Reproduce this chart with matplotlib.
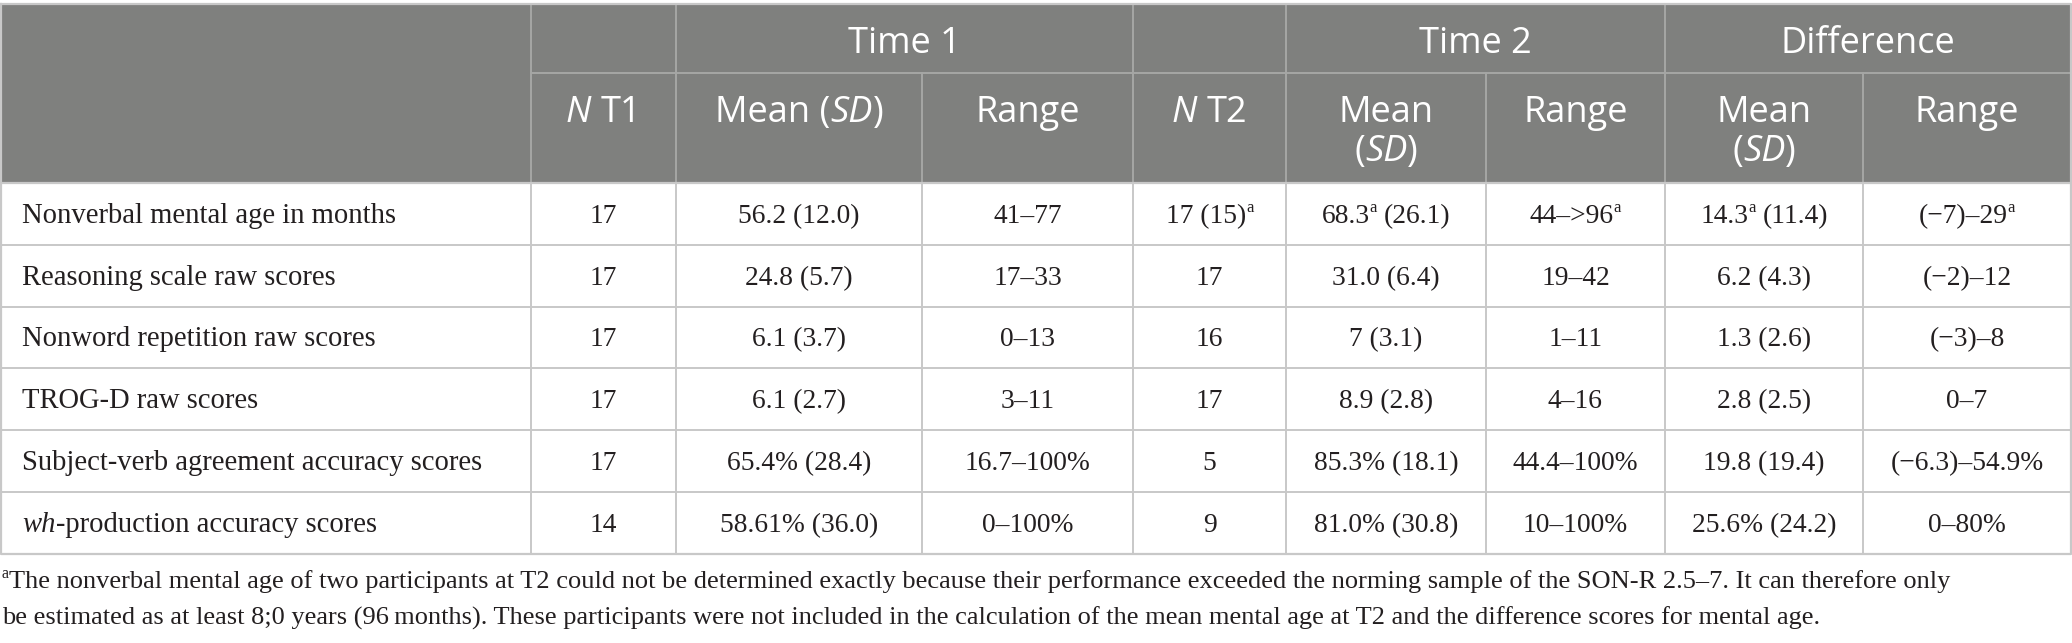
import re
import matplotlib
matplotlib.use("Agg")
import matplotlib.pyplot as plt

# table content (^a marks a superscript footnote letter, _..._ marks italic)
rows = [
    "Nonverbal mental age in months",
    "Reasoning scale raw scores",
    "Nonword repetition raw scores",
    "TROG-D raw scores",
    "Subject-verb agreement accuracy scores",
    "_wh_-production accuracy scores",
]
n_t1 = ["17", "17", "17", "17", "17", "14"]
mean_t1 = ["56.2 (12.0)", "24.8 (5.7)", "6.1 (3.7)", "6.1 (2.7)", "65.4% (28.4)", "58.61% (36.0)"]
range_t1 = ["41–77", "17–33", "0–13", "3–11", "16.7–100%", "0–100%"]
n_t2 = ["17 (15)^a", "17", "16", "17", "5", "9"]
mean_t2 = ["68.3^a (26.1)", "31.0 (6.4)", "7 (3.1)", "8.9 (2.8)", "85.3% (18.1)", "81.0% (30.8)"]
range_t2 = ["44–>96^a", "19–42", "1–11", "4–16", "44.4–100%", "10–100%"]
mean_diff = ["14.3^a (11.4)", "6.2 (4.3)", "1.3 (2.6)", "2.8 (2.5)", "19.8 (19.4)", "25.6% (24.2)"]
range_diff = ["(−7)–29^a", "(−2)–12", "(−3)–8", "0–7", "(−6.3)–54.9%", "0–80%"]

groups = ["", "Time 1", "", "Time 2", "Difference"]
subheads = [["", ""], ["_N_ T1", ""], ["Mean (_SD_)", ""], ["Range", ""], ["_N_ T2", ""],
            ["Mean", "(_SD_)"], ["Range", ""], ["Mean", "(_SD_)"], ["Range", ""]]

footnote = ["^aThe nonverbal mental age of two participants at T2 could not be determined exactly because their performance exceeded the norming sample of the SON-R 2.5–7. It can therefore only",
            "be estimated as at least 8;0 years (96\u2009months). These participants were not included in the calculation of the mean mental age at T2 and the difference scores for mental age."]

# layout in pixels
W, H = 2072, 643
col_x = [1, 531, 676, 922, 1133, 1286, 1486, 1665, 1863, 2071]
group_cols = [(1, 2), (2, 4), (4, 5), (5, 7), (7, 9)]
head_top, head_mid, head_bot = 4, 73, 183
row_h = 61.8

HEAD_BG = "#7f807e"
HEAD_LINE = "#a6a7a5"
BODY_LINE = "#c8c8c8"
BODY_TXT = "#231f20"
SANS = "Open Sans"
SERIF = "Liberation Serif"
HEAD_FS = 26
LABEL_FS = 20.6
BODY_FS = 19.8
FOOT_FS = 19

fig = plt.figure(figsize=(W / 100, H / 100), dpi=100)
ax = fig.add_axes([0, 0, 1, 1])
ax.set_xlim(0, W)
ax.set_ylim(H, 0)
ax.axis("off")
renderer = fig.canvas.get_renderer()


def width(s, **kw):
    t = ax.text(0, 0, "|" + s + "|", **kw)
    t2 = ax.text(0, 0, "||", **kw)
    w = t.get_window_extent(renderer).width - t2.get_window_extent(renderer).width
    t.remove()
    t2.remove()
    return w


def pieces_of(s, family, size):
    out = []
    for part in re.split(r"(\^a|_[^_]+_)", s):
        if not part:
            continue
        if part == "^a":
            out.append(("a", dict(family=family, fontsize=size * 0.6), -size * 0.55))
        elif part.startswith("_"):
            out.append((part[1:-1], dict(family=family, fontsize=size, style="italic"), 0))
        else:
            out.append((part, dict(family=family, fontsize=size), 0))
    return out


def draw(x, y, s, family, size, color, ha="center"):
    pcs = pieces_of(s, family, size)
    ws = [width(p, **kw) for p, kw, _ in pcs]
    cur = x - sum(ws) / 2 if ha == "center" else x
    for (p, kw, dy), w in zip(pcs, ws):
        lead = len(p) - len(p.lstrip(" "))
        off = width(" " * lead, **kw) if lead else 0
        ax.text(cur + off, y + dy, p.strip(" "), ha="left", va="baseline", color=color, **kw)
        cur += w


# header background
ax.add_patch(plt.Rectangle((col_x[0], head_top), col_x[-1] - col_x[0], head_bot - head_top,
                           facecolor=HEAD_BG, edgecolor="none"))

# header lines
ax.plot([col_x[1], col_x[-1]], [head_mid, head_mid], color=HEAD_LINE, lw=1.4)
for i, x in enumerate(col_x[1:-1], start=1):
    top = head_top if i in (1, 2, 4, 5, 7) else head_mid
    ax.plot([x, x], [top, head_bot], color=HEAD_LINE, lw=1.4)

# group headings
for label, (a, b) in zip(groups, group_cols):
    if label:
        draw((col_x[a] + col_x[b]) / 2, 53, label, SANS, HEAD_FS, "white")

# sub headings
for j, lines in enumerate(subheads):
    cx = (col_x[j] + col_x[j + 1]) / 2
    for k, line in enumerate(lines):
        if line:
            draw(cx, 122 + k * 39, line, SANS, HEAD_FS, "white")

# body
columns = [rows, n_t1, mean_t1, range_t1, n_t2, mean_t2, range_t2, mean_diff, range_diff]
n_rows = len(rows)
for i in range(n_rows):
    top = head_bot + i * row_h
    base = top + row_h / 2 + 9
    for j, col in enumerate(columns):
        if j == 0:
            draw(22, base, col[i], SERIF, LABEL_FS, BODY_TXT, ha="left")
        else:
            draw((col_x[j] + col_x[j + 1]) / 2, base, col[i], SERIF, BODY_FS, BODY_TXT)

body_bot = head_bot + n_rows * row_h
for i in range(1, n_rows):
    y = head_bot + i * row_h
    ax.plot([col_x[0], col_x[-1]], [y, y], color=BODY_LINE, lw=1.4)
for x in col_x[1:-1]:
    ax.plot([x, x], [head_bot, body_bot], color=BODY_LINE, lw=1.4)

# outer frame
ax.plot([col_x[0], col_x[-1], col_x[-1], col_x[0], col_x[0]],
        [head_top, head_top, body_bot, body_bot, head_top], color=BODY_LINE, lw=1.6)
ax.plot([col_x[0], col_x[-1]], [head_bot, head_bot], color=BODY_LINE, lw=1.6)

# footnote
for k, line in enumerate(footnote):
    draw(2, 588 + k * 37, line, SERIF, FOOT_FS, BODY_TXT, ha="left")

fig.savefig("out.png", dpi=100)
